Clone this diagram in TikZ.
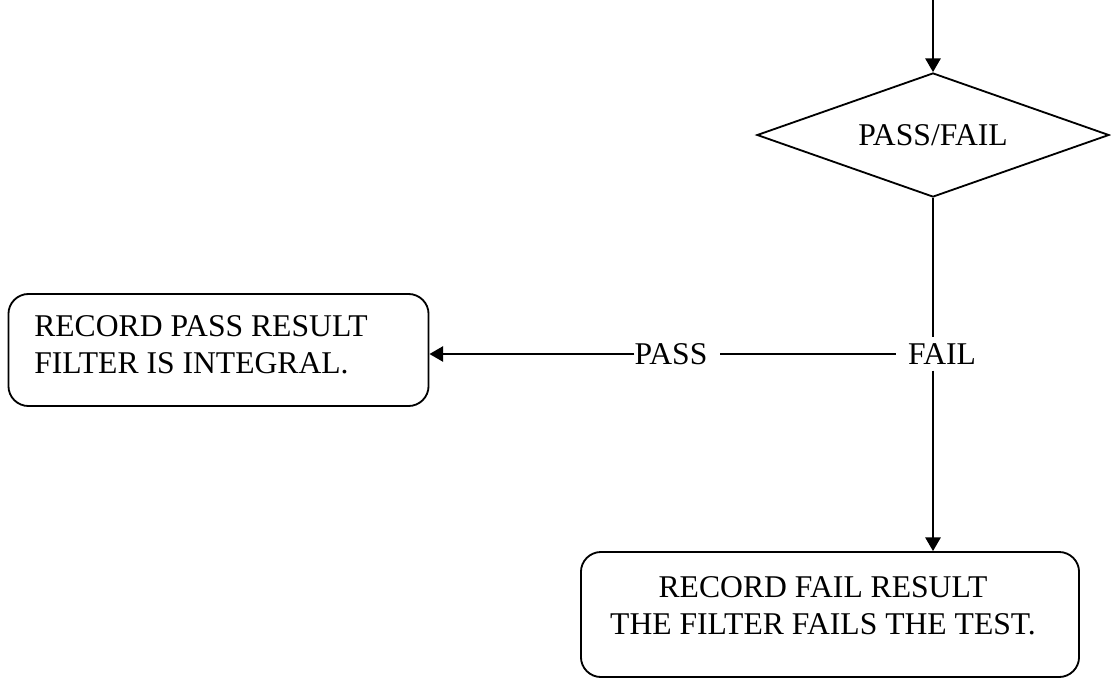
\documentclass[tikz,border=0pt]{standalone}
\usepackage{fontspec}
\setmainfont{Liberation Serif}
\usetikzlibrary{arrows.meta,positioning,shapes.geometric}
\newcommand{\recfont}{\fontsize{22.5}{26.2}\selectfont}
\tikzset{
  % Decision diamond
  decbox/.style={diamond,draw=black,line width=1.3pt,aspect=2.84,
    inner sep=0pt,minimum width=8.8cm,minimum height=3.1cm,
    font=\recfont},
  % Rounded result box
  recbox/.style={rectangle,rounded corners=0.5cm,
    draw=black,line width=1.3pt},
  % Text set inside a result box
  rectxt/.style={inner sep=0pt,font=\recfont},
  % Branch labels on the lines
  lbl/.style={inner xsep=0.3cm,inner ysep=0.15cm,font=\recfont},
  % Lines and arrows
  ln/.style={line width=1.3pt},
  arr/.style={-{Triangle[length=0.34cm,width=0.38cm]},line width=1.3pt},
}
\begin{document}
\begin{tikzpicture}[x=0.025cm,y=-0.025cm]
  \useasboundingbox (0,0) rectangle (1111,679);
  \coordinate (top) at (933,0);
  \node[decbox] (dec) at (933,135) {PASS/FAIL};

  \node[lbl] (fail) at (942,354) {FAIL};
  \node[lbl] (pass) at (671,354) {PASS};

  \node[recbox,minimum width=10.5cm,minimum height=2.8cm]
    (passbox) at (218.5,350) {};
  \node[rectxt,anchor=north west,align=left] (passtxt) at (34,315)
    {RECORD PASS RESULT\\FILTER IS INTEGRAL.};

  \node[recbox,minimum width=12.45cm,minimum height=3.125cm]
    (failbox) at (830,614.5) {};
  \node[rectxt,anchor=north,align=center] (failtxt) at (823,576)
    {RECORD FAIL RESULT\\THE FILTER FAILS THE TEST.};

  \draw[arr] (top) -- (dec.north);
  \draw[ln] (dec.south) -- (dec.south |- fail.north);
  \draw[arr] (dec.south |- fail.south) -- (dec.south |- failbox.north);
  \draw[ln] (fail.west) -- (pass.east);
  \draw[arr] ([xshift=0.3cm]pass.west) -- (passbox.east |- pass.west);
\end{tikzpicture}
\end{document}
